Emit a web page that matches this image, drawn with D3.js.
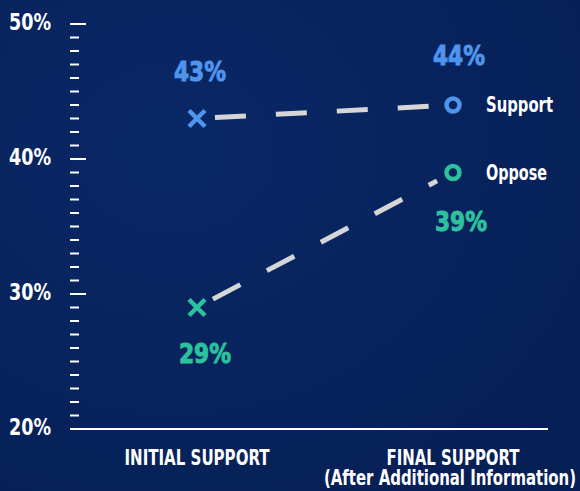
<!DOCTYPE html>
<html><head><meta charset="utf-8">
<script src="https://cdn.jsdelivr.net/npm/d3@7"></script>
<style>
html,body{margin:0;padding:0;background:#082259;}
svg{display:block;}
.cond{font-family:"DejaVu Sans Condensed","DejaVu Sans",sans-serif;font-weight:700;}
.val{font-family:"DejaVu Sans",sans-serif;font-weight:700;}
</style></head>
<body>
<svg id="c" width="580" height="491"></svg>
<script>
const categories = ["INITIAL SUPPORT", "FINAL SUPPORT"];
const categorySubtitles = ["", "(After Additional Information)"];
const seriesNames = ["Support", "Oppose"];
const supportValues = [43, 44];
const opposeValues = [29, 39];
const majorTicks = [20, 30, 40, 50];
const tickLabels = ["20%", "30%", "40%", "50%"];
const colors = {Support: "#4f95ee", Oppose: "#2cc29d"};

const W = 580, H = 491;
const svg = d3.select("#c");
const defs = svg.append("defs");
const grad = defs.append("radialGradient").attr("id","bg").attr("cx","30%").attr("cy","30%").attr("r","90%");
grad.append("stop").attr("offset","0%").attr("stop-color","#0a2866");
grad.append("stop").attr("offset","100%").attr("stop-color","#061f55");
svg.append("rect").attr("width",W).attr("height",H).attr("fill","url(#bg)");

const x = d3.scalePoint().domain(categories).range([197, 453]);
const y = d3.scaleLinear().domain([20, 50]).range([429, 24]);

// y ticks
const axisX = 70;
const allTicks = d3.range(20, 51, 1);
svg.append("g").selectAll("line").data(allTicks).join("line")
  .attr("x1", axisX).attr("x2", d => axisX + (d % 10 === 0 ? 16 : 9))
  .attr("y1", d => y(d)).attr("y2", d => y(d))
  .attr("stroke", "#ffffff").attr("stroke-width", 2);
svg.append("g").selectAll("text").data(majorTicks).join("text")
  .attr("class","cond").attr("x", 51).attr("y", d => y(d) + 6)
  .attr("text-anchor","end").attr("fill","#fff").attr("font-size", 23)
  .attr("textLength", 42).attr("lengthAdjust","spacingAndGlyphs")
  .text((d,i) => tickLabels[i]);

// x axis line
svg.append("line").attr("x1", axisX).attr("x2", 548).attr("y1", y(20)).attr("y2", y(20))
  .attr("stroke","#fff").attr("stroke-width",2);

// category labels
const catWidths = [145, 133];
svg.append("g").selectAll("text").data(categories).join("text")
  .attr("class","cond").attr("x", d => x(d)).attr("y", 465)
  .attr("text-anchor","middle").attr("fill","#fff").attr("font-size", 22)
  .attr("textLength", (d,i) => catWidths[i]).attr("lengthAdjust","spacingAndGlyphs")
  .text(d => d);
svg.append("text")
  .attr("class","cond").attr("x", x(categories[1]) - 3).attr("y", 485)
  .attr("text-anchor","middle").attr("fill","#fff").attr("font-size", 21)
  .attr("textLength", 252).attr("lengthAdjust","spacingAndGlyphs")
  .text(categorySubtitles[1]);

const series = [
  {name: "Support", values: supportValues, labelDy: [-38, -40], labelDx: [3, 6], legendW: 67},
  {name: "Oppose", values: opposeValues, labelDy: [55, 58], labelDx: [8, 8], legendW: 61}
];

const pad = 18;
series.forEach(s => {
  const x0 = x(categories[0]), y0 = y(s.values[0]);
  const x1 = x(categories[1]), y1 = y(s.values[1]);
  const len = Math.hypot(x1 - x0, y1 - y0);
  const ux = (x1 - x0) / len, uy = (y1 - y0) / len;
  svg.append("line")
    .attr("x1", x0 + ux * pad).attr("y1", y0 + uy * pad)
    .attr("x2", x1 - ux * pad).attr("y2", y1 - uy * pad)
    .attr("stroke", "#d6d6d6").attr("stroke-width", 5)
    .attr("stroke-dasharray", "31,30");
  const c = colors[s.name];
  const k = 8;
  const g = svg.append("g").attr("transform", `translate(${x0},${y0})`);
  g.append("path").attr("d", `M${-k},${-k}L${k},${k}M${-k},${k}L${k},${-k}`)
    .attr("stroke", c).attr("stroke-width", 4.5);
  svg.append("circle").attr("cx", x1).attr("cy", y1).attr("r", 6.5)
    .attr("fill","none").attr("stroke", c).attr("stroke-width", 4.5);
  s.values.forEach((v, i) => {
    svg.append("text").attr("class","val")
      .attr("x", x(categories[i]) + s.labelDx[i]).attr("y", y(v) + s.labelDy[i])
      .attr("text-anchor","middle").attr("fill", c).attr("font-size", 27)
      .attr("stroke", c).attr("stroke-width", 1)
      .attr("textLength", 52).attr("lengthAdjust","spacingAndGlyphs")
      .text(v + "%");
  });
  svg.append("text").attr("class","cond")
    .attr("x", 486).attr("y", y1 + 7).attr("fill","#fff").attr("font-size", 22)
    .attr("textLength", s.legendW).attr("lengthAdjust","spacingAndGlyphs")
    .text(s.name);
});
</script>
</body></html>
